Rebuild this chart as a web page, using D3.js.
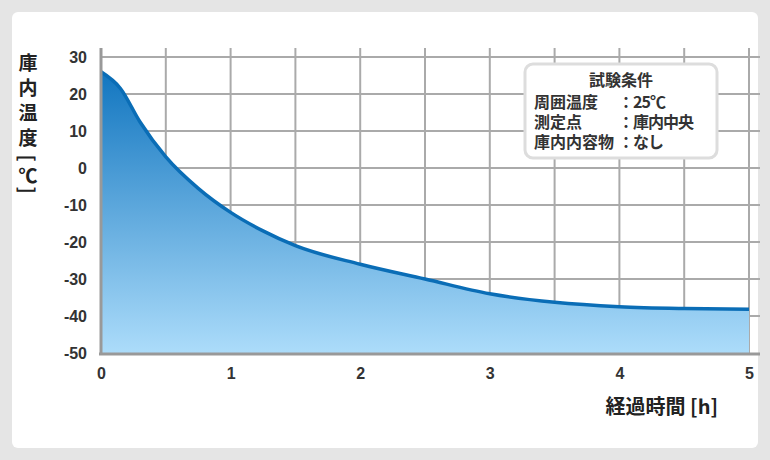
<!DOCTYPE html>
<html><head><meta charset="utf-8">
<script src="https://cdn.jsdelivr.net/npm/d3@7"></script>
<style>body{margin:0;background:#e5e5e5}svg{display:block}</style>
</head><body><svg width="770" height="460"></svg>
<script>
var hours = [0, 0.15, 0.3, 0.5, 0.75, 1, 1.25, 1.5, 2, 2.5, 3, 3.5, 4, 4.5, 5];
var temps = [26, 21.5, 12.5, 3, -5.5, -12, -17, -21, -26, -30, -34, -36.3, -37.5, -38, -38.2];
var xTicks = [0, 1, 2, 3, 4, 5];
var yTicks = [30, 20, 10, 0, -10, -20, -30, -40, -50];
var infoLines = [["周囲温度", "：25℃"], ["測定点", "：庫内中央"], ["庫内内容物", "：なし"]];
var data = hours.map((h, i) => ({h: h, t: temps[i]}));

var svg = d3.select('svg');
var font = '"Noto Sans CJK JP", sans-serif';
svg.append('rect').attr('x', 12).attr('y', 12).attr('width', 746).attr('height', 436)
    .attr('rx', 6).attr('fill', '#fff');

var x = d3.scaleLinear().domain([0, 5]).range([101, 749]);
var y = d3.scaleLinear().domain([-50, 30]).range([353, 57]);

var defs = svg.append('defs');
var g = defs.append('linearGradient').attr('id', 'fillg').attr('x1', 0).attr('y1', 0).attr('x2', 0).attr('y2', 1);
g.append('stop').attr('offset', '0%').attr('stop-color', '#1276c0');
g.append('stop').attr('offset', '100%').attr('stop-color', '#acdcfa');

// grid
var grid = svg.append('g').attr('stroke', '#aaa').attr('stroke-width', 2);
d3.range(0.5, 5.01, 0.5).forEach(v => grid.append('line')
    .attr('x1', x(v)).attr('x2', x(v)).attr('y1', 48).attr('y2', 353));
yTicks.slice(0, -1).forEach(v => grid.append('line')
    .attr('x1', 101).attr('x2', 760).attr('y1', y(v)).attr('y2', y(v)));

var curve = d3.curveMonotoneX;
svg.append('path').datum(data).attr('fill', 'url(#fillg)')
    .attr('d', d3.area().x(d => x(d.h)).y0(y(-50)).y1(d => y(d.t)).curve(curve));
svg.append('path').datum(data).attr('fill', 'none').attr('stroke', '#0a6db6').attr('stroke-width', 3.5)
    .attr('d', d3.line().x(d => x(d.h)).y(d => y(d.t)).curve(curve));

// axes lines
svg.append('line').attr('x1', 101).attr('x2', 101).attr('y1', 48).attr('y2', 354).attr('stroke', '#999').attr('stroke-width', 3);
svg.append('line').attr('x1', 99).attr('x2', 760).attr('y1', 354).attr('y2', 354).attr('stroke', '#999').attr('stroke-width', 3);

var xAxis = d3.axisBottom(x).tickValues(xTicks).tickSize(0).tickPadding(14).tickFormat(d => String(d));
var gx = svg.append('g').attr('transform', 'translate(0,354)').call(xAxis);
var yAxis = d3.axisLeft(y).tickValues(yTicks).tickSize(0).tickPadding(14).tickFormat(d => String(d));
var gy = svg.append('g').attr('transform', 'translate(101,0)').call(yAxis);
[gx, gy].forEach(a => {
  a.select('.domain').remove();
  a.selectAll('text').attr('font-family', 'Arial, "Liberation Sans", sans-serif')
    .attr('font-size', 16).attr('font-weight', 'bold').attr('fill', '#333');
});

// y label
var yl = ['庫', '内', '温', '度'];
yl.forEach((c, i) => svg.append('text').attr('x', 28).attr('y', 70 + i * 25).attr('text-anchor', 'middle')
    .attr('font-family', font).attr('font-size', 19).attr('font-weight', 'bold').attr('fill', '#222').text(c));
svg.append('text').attr('transform', 'translate(28,158) rotate(90)').attr('text-anchor', 'middle')
    .attr('dominant-baseline', 'central').attr('font-family', font)
    .attr('font-size', 19).attr('font-weight', 'bold').attr('fill', '#222').text('[');
svg.append('text').attr('x', 28).attr('y', 183).attr('text-anchor', 'middle').attr('font-family', font)
    .attr('font-size', 19).attr('font-weight', 'bold').attr('fill', '#222').text('℃');
svg.append('text').attr('transform', 'translate(28,190) rotate(90)').attr('text-anchor', 'middle')
    .attr('dominant-baseline', 'central').attr('font-family', font)
    .attr('font-size', 19).attr('font-weight', 'bold').attr('fill', '#222').text(']');

svg.append('text').attr('x', 718).attr('y', 414).attr('text-anchor', 'end').attr('font-family', font)
    .attr('font-size', 20).attr('font-weight', 'bold').attr('fill', '#222').text('経過時間 [h]');

// info box
svg.append('rect').attr('x', 525).attr('y', 64).attr('width', 192).attr('height', 94).attr('rx', 8)
    .attr('fill', '#fff').attr('stroke', '#ddd').attr('stroke-width', 3);
svg.append('text').attr('x', 621).attr('y', 86).attr('text-anchor', 'middle').attr('font-family', font)
    .attr('font-size', 16).attr('font-weight', 'bold').attr('fill', '#333').text('試験条件');
infoLines.forEach((l, i) => {
  var t = svg.append('g').attr('font-family', font).attr('font-size', 16).attr('font-weight', 'bold').attr('fill', '#333');
  t.append('text').attr('x', 534).attr('y', 108 + i * 20).text(l[0]);
  t.append('text').attr('x', 618).attr('y', 108 + i * 20).text(l[1]).attr('letter-spacing', -1);
});
</script></body></html>
